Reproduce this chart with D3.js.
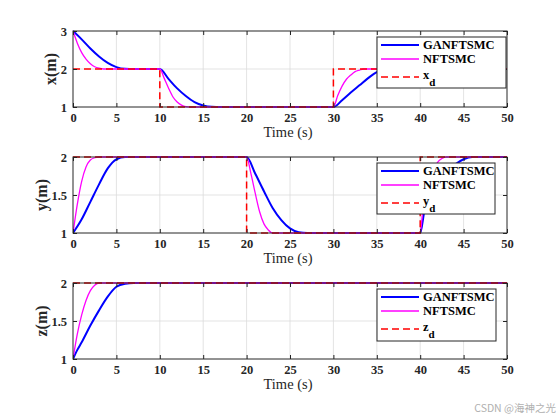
<!DOCTYPE html>
<html>
<head>
<meta charset="utf-8">
<script src="https://cdn.jsdelivr.net/npm/d3@7"></script>
<style>
  body { margin: 0; background: #fff; }
  svg { display: block; }
</style>
</head>
<body>
<svg id="chart" width="560" height="420"></svg>
<script>
const timeTicks = [0, 5, 10, 15, 20, 25, 30, 35, 40, 45, 50];
const xTicks = [1, 2, 3],
	yTicks = [1, 1.5, 2],
	zTicks = [1, 1.5, 2];

const seriesNames = ["GANFTSMC", "NFTSMC"];

// [time, value]
const xGan = [[0,3],[1,2.78],[2,2.54],[3,2.33],[4,2.16],[5,2.05],[6,2.005],[7,2],[10,2],[11,1.74],[12,1.49],[13,1.29],[14,1.13],[15,1.04],[16,1.005],[17,1],[30,1],[31,1.18],[32,1.38],[33,1.57],[34,1.76],[35,1.92],[36,1.98],[37,2],[50,2]];
const xNft = [[0,3],[0.5,2.68],[1,2.43],[1.5,2.26],[2,2.14],[2.5,2.06],[3,2.02],[3.5,2],[10,2],[10.5,1.76],[11,1.5],[11.5,1.27],[12,1.13],[12.5,1.05],[13,1.01],[13.5,1],[30,1],[30.5,1.3],[31,1.55],[31.5,1.73],[32,1.84],[32.5,1.93],[33,1.97],[33.5,2],[50,2]];
const xRef = [[0,2],[10,2],[10,1],[30,1],[30,2],[50,2]];

const yGan = [[0,1],[1,1.18],[2,1.41],[3,1.64],[4,1.85],[5,1.97],[6,2],[20,2],[21,1.78],[22,1.55],[23,1.33],[24,1.17],[25,1.06],[26,1.01],[27,1],[40,1],[40.5,1.3],[41,1.45],[42,1.65],[43,1.8],[44,1.9],[45,1.97],[46,2],[50,2]];
const yNft = [[0,1],[0.5,1.38],[1,1.68],[1.5,1.87],[2,1.96],[2.5,1.99],[3,2],[20,2],[20.5,1.78],[21,1.52],[21.5,1.28],[22,1.12],[22.5,1.04],[23,1],[40,1],[40.3,1.3],[40.7,1.55],[41,1.68],[41.5,1.83],[42,1.93],[42.5,1.98],[43,2],[50,2]];
const yRef = [[0,2],[20,2],[20,1],[40,1],[40,2],[50,2]];

const zGan = [[0,1],[0.5,1.12],[1,1.22],[2,1.44],[3,1.64],[4,1.82],[5,1.95],[6,1.99],[7,2],[50,2]];
const zNft = [[0,1],[0.5,1.33],[1,1.58],[1.5,1.77],[2,1.9],[2.5,1.97],[3,2],[50,2]];
const zRef = [[0,2],[50,2]];

const left = 73, right = 507;

const panels = [
	{id: "x", top: 31, bottom: 107, domain: [1, 3], ticks: xTicks, gan: xGan, nft: xNft, ref: xRef,
		labelX: 56, legend: {x: 377, y: 37, w: 129, h: 51}},
	{id: "y", top: 157, bottom: 233, domain: [1, 2], ticks: yTicks, gan: yGan, nft: yNft, ref: yRef,
		labelX: 47, legend: {x: 377, y: 163, w: 118, h: 51}},
	{id: "z", top: 283, bottom: 359, domain: [1, 2], ticks: zTicks, gan: zGan, nft: zNft, ref: zRef,
		labelX: 47, legend: {x: 377, y: 289, w: 119, h: 52}}
];

const svg = d3.select("#chart");

const xScale = d3.scaleLinear()
	.domain([0, 50])
	.range([left, right]);

function drawPanel(p) {
	const yScale = d3.scaleLinear()
		.domain(p.domain)
		.range([p.bottom, p.top]);

	const g = svg.append("g").attr("class", "panel-" + p.id);

	g.append("clipPath")
		.attr("id", "clip-" + p.id)
		.append("rect")
		.attr("x", left)
		.attr("y", p.top - 1)
		.attr("width", right - left)
		.attr("height", p.bottom - p.top + 2);

	// grid
	g.append("g")
		.selectAll("line")
		.data(timeTicks.slice(1, -1))
		.join("line")
		.attr("x1", d => xScale(d))
		.attr("x2", d => xScale(d))
		.attr("y1", p.top)
		.attr("y2", p.bottom)
		.attr("stroke", "#dcdcdc")
		.attr("stroke-width", 0.8);

	g.append("g")
		.selectAll("line")
		.data(p.ticks.slice(1, -1))
		.join("line")
		.attr("x1", left)
		.attr("x2", right)
		.attr("y1", d => yScale(d))
		.attr("y2", d => yScale(d))
		.attr("stroke", "#dcdcdc")
		.attr("stroke-width", 0.8);

	const curve = d3.line()
		.x(d => xScale(d[0]))
		.y(d => yScale(d[1]))
		.curve(d3.curveMonotoneX);

	const step = d3.line()
		.x(d => xScale(d[0]))
		.y(d => yScale(d[1]));

	const plot = g.append("g").attr("clip-path", "url(#clip-" + p.id + ")");

	plot.append("path")
		.attr("d", curve(p.gan))
		.attr("fill", "none")
		.attr("stroke", "#0000ff")
		.attr("stroke-width", 2);

	plot.append("path")
		.attr("d", curve(p.nft))
		.attr("fill", "none")
		.attr("stroke", "#ff00ff")
		.attr("stroke-width", 1.3);

	plot.append("path")
		.attr("d", step(p.ref))
		.attr("fill", "none")
		.attr("stroke", "#ff0000")
		.attr("stroke-width", 1.5)
		.attr("stroke-dasharray", "7,4");

	// axes, ticks inside, MATLAB style box
	const bottomAxis = d3.axisBottom(xScale).tickValues(timeTicks).tickSizeInner(-4).tickSizeOuter(0).tickPadding(6);
	const topAxis = d3.axisTop(xScale).tickValues(timeTicks).tickSizeInner(-4).tickSizeOuter(0).tickFormat("");
	const leftAxis = d3.axisLeft(yScale).tickValues(p.ticks).tickSizeInner(-4).tickSizeOuter(0).tickPadding(6)
		.tickFormat(d3.format("~g"));
	const rightAxis = d3.axisRight(yScale).tickValues(p.ticks).tickSizeInner(-4).tickSizeOuter(0).tickFormat("");

	[
		g.append("g").attr("transform", `translate(0,${p.bottom})`).call(bottomAxis),
		g.append("g").attr("transform", `translate(0,${p.top})`).call(topAxis),
		g.append("g").attr("transform", `translate(${left},0)`).call(leftAxis),
		g.append("g").attr("transform", `translate(${right},0)`).call(rightAxis)
	].forEach(a => {
		a.select(".domain").remove();
		a.selectAll(".tick line").attr("stroke", "#222");
		a.selectAll(".tick text")
			.attr("fill", "#262626")
			.attr("font-family", "Liberation Serif, serif")
			.attr("font-weight", "bold")
			.attr("font-size", 12.5);
	});

	g.append("rect")
		.attr("x", left)
		.attr("y", p.top)
		.attr("width", right - left)
		.attr("height", p.bottom - p.top)
		.attr("fill", "none")
		.attr("stroke", "#262626")
		.attr("stroke-width", 1);

	// labels
	g.append("text")
		.attr("x", (left + right) / 2 - 2)
		.attr("y", p.bottom + 30)
		.attr("text-anchor", "middle")
		.attr("font-family", "Liberation Serif, serif")
		.attr("font-size", 14.5)
		.attr("fill", "#262626")
		.text("Time (s)");

	g.append("text")
		.attr("transform", `translate(${p.labelX},${(p.top + p.bottom) / 2}) rotate(-90)`)
		.attr("text-anchor", "middle")
		.attr("font-family", "Liberation Serif, serif")
		.attr("font-weight", "bold")
		.attr("font-size", 16)
		.attr("fill", "#262626")
		.text(p.id + "(m)");

	// legend
	const L = p.legend;
	const lg = g.append("g").attr("transform", `translate(${L.x},${L.y})`);
	lg.append("rect")
		.attr("width", L.w)
		.attr("height", L.h)
		.attr("fill", "#fff")
		.attr("stroke", "#262626")
		.attr("stroke-width", 1);

	const entries = [
		{label: seriesNames[0], color: "#0000ff", width: 2, dash: null, dy: 8},
		{label: seriesNames[1], color: "#ff00ff", width: 1.3, dash: null, dy: 22},
		{label: p.id, color: "#ff0000", width: 1.5, dash: "7,4", dy: 40}
	];

	entries.forEach((e, i) => {
		lg.append("line")
			.attr("x1", 4)
			.attr("x2", 42)
			.attr("y1", e.dy)
			.attr("y2", e.dy)
			.attr("stroke", e.color)
			.attr("stroke-width", e.width)
			.attr("stroke-dasharray", e.dash);

		const t = lg.append("text")
			.attr("x", 46)
			.attr("y", e.dy + 4)
			.attr("font-family", "Liberation Serif, serif")
			.attr("font-weight", "bold")
			.attr("font-size", 12.5)
			.attr("fill", "#000");
		if (i < 2) {
			t.text(e.label);
		} else {
			t.attr("y", e.dy + 2).text(e.label);
			t.append("tspan")
				.attr("dy", 7)
				.attr("font-size", 11)
				.text("d");
		}
	});
}

panels.forEach(drawPanel);

svg.append("text")
	.attr("x", 556)
	.attr("y", 412)
	.attr("text-anchor", "end")
	.attr("font-family", "Noto Sans CJK SC, sans-serif")
	.attr("font-size", 10.5)
	.attr("fill", "#b0b0b0")
	.text("CSDN @海神之光");
</script>
</body>
</html>
